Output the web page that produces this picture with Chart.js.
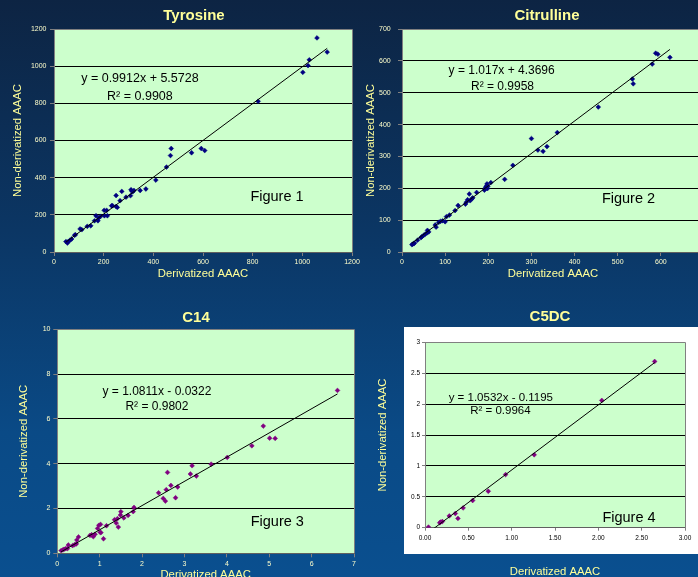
<!DOCTYPE html>
<html>
<head>
<meta charset="utf-8">
<script src="https://cdn.jsdelivr.net/npm/chart.js@4/dist/chart.umd.min.js"></script>
<style>
  html, body { margin: 0; padding: 0; width: 698px; height: 577px; overflow: hidden; }
  body {
    position: relative;
    background: linear-gradient(180deg, #0d2443 0%, #0b3664 40%, #0a4a86 75%, #0a4f8f 100%);
  }
  canvas { position: absolute; }
  #c5dcPanel { position: absolute; left: 404px; top: 327px; width: 300px; height: 227px; background: #ffffff; }
</style>
</head>
<body>
<div id="c5dcPanel"></div>
<canvas id="tyrChart" width="388" height="290" style="left:0px;top:0px"></canvas>
<canvas id="citChart" width="390" height="290" style="left:352px;top:0px"></canvas>
<canvas id="c14Chart" width="392" height="290" style="left:0px;top:300px"></canvas>
<canvas id="c5dcChart" width="380" height="290" style="left:360px;top:300px"></canvas>
<script>
// ---- Tyrosine: derivatized vs non-derivatized AAAC ----
const tyrDerivatized = [48, 54, 58, 64, 71, 83, 86, 105, 112, 134, 148, 163, 169, 177, 180, 188, 202, 203, 212, 215,
  232, 236, 250, 255, 250, 273, 266, 290, 308, 310, 314, 317, 322, 347, 370, 410, 453, 469, 472, 554,
  593, 607, 822, 1002, 1023, 1028, 1059, 1100];
const tyrNonDerivatized = [56, 48, 57, 63, 70, 90, 93, 124, 120, 138, 141, 168, 195, 168, 183, 192, 224, 195, 224, 195,
  249, 249, 245, 240, 304, 326, 276, 295, 303, 335, 328, 324, 331, 331, 339, 387, 457, 519, 557, 534,
  557, 546, 811, 967, 1003, 1034, 1152, 1076];
const tyrSlope = 0.9912, tyrIntercept = 5.5728, tyrR2 = 0.9908;

// ---- Citrulline ----
const citDerivatized = [23, 25, 27, 29, 36, 44, 46, 50, 54, 58, 59, 62, 77, 79, 85, 89, 94, 100, 103, 110,
  123, 130, 147, 149, 152, 156, 158, 162, 164, 173, 191, 193, 195, 197, 198, 199, 206, 238, 257, 300,
  315, 327, 336, 360, 455, 534, 536, 580, 588, 593, 621];
const citNonDerivatized = [23, 25, 26, 28, 37, 45, 48, 52, 56, 60, 68, 63, 85, 78, 93, 96, 98, 95, 111, 116,
  130, 146, 150, 156, 164, 182, 161, 167, 170, 187, 194, 201, 206, 214, 199, 206, 218, 228, 272, 356,
  320, 316, 331, 375, 455, 543, 528, 590, 624, 621, 611];
const citSlope = 1.017, citIntercept = 4.3696, citR2 = 0.9958;

// ---- C14 ----
const c14Derivatized = [0.09, 0.13, 0.16, 0.20, 0.24, 0.26, 0.36, 0.41, 0.45, 0.46, 0.50, 0.77, 0.81, 0.85, 0.89,
  0.95, 0.98, 1.01, 1.03, 1.02, 1.09, 1.16, 1.35, 1.39, 1.42, 1.44, 1.49, 1.50, 1.57, 1.67, 1.79, 1.81,
  2.39, 2.50, 2.55, 2.57, 2.60, 2.68, 2.79, 2.84, 3.14, 3.18, 3.28, 3.63, 4.01, 4.59, 4.86, 5.01, 5.14, 6.61];
const c14NonDerivatized = [0.12, 0.15, 0.18, 0.21, 0.21, 0.37, 0.34, 0.39, 0.42, 0.59, 0.73, 0.80, 0.83, 0.74, 0.85,
  1.11, 1.25, 0.94, 0.92, 1.29, 0.65, 1.23, 1.50, 1.35, 1.55, 1.17, 1.71, 1.86, 1.58, 1.69, 1.86, 2.05,
  2.70, 2.45, 2.33, 2.84, 3.61, 3.03, 2.48, 2.96, 3.54, 3.91, 3.45, 3.98, 4.28, 4.80, 5.68, 5.14, 5.13, 7.27];
const c14Slope = 1.0811, c14Intercept = -0.0322, c14R2 = 0.9802;

// ---- C5DC ----
const c5dcDerivatized = [0.04, 0.17, 0.18, 0.20, 0.28, 0.35, 0.38, 0.44, 0.55, 0.73, 0.93, 1.26, 2.04, 2.65];
const c5dcNonDerivatized = [0.01, 0.08, 0.09, 0.10, 0.19, 0.23, 0.15, 0.32, 0.44, 0.59, 0.86, 1.18, 2.06, 2.69];
const c5dcSlope = 1.0532, c5dcIntercept = -0.1195, c5dcR2 = 0.9964;

const FONT = '"Liberation Sans", Arial, Helvetica, sans-serif';

function pairs(xs, ys) { return xs.map((x, i) => ({ x: x, y: ys[i] })); }
// Linear trendline across the observed x range
function trendPoints(xs, m, b) {
  const lo = Math.min(...xs), hi = Math.max(...xs);
  return [{ x: lo, y: m * lo + b }, { x: hi, y: m * hi + b }];
}
function equation(m, b) { return 'y = ' + m + 'x ' + (b < 0 ? '- ' : '+ ') + Math.abs(b); }
function rSquared(r2) { return 'R\u00B2 = ' + r2; }

// Green plot background plus grey frame on the top and right edges
const plotArea = {
  id: 'plotArea',
  beforeDraw(chart, args, o) {
    const { ctx, chartArea: a } = chart;
    ctx.save();
    ctx.fillStyle = o.fill;
    ctx.fillRect(a.left, a.top, a.right - a.left, a.bottom - a.top);
    ctx.restore();
  },
  beforeDatasetsDraw(chart, args, o) {
    const { ctx, chartArea: a } = chart;
    ctx.save();
    ctx.strokeStyle = o.frame;
    ctx.lineWidth = 1;
    ctx.beginPath();
    ctx.moveTo(Math.round(a.left), Math.round(a.top) + 0.5);
    ctx.lineTo(Math.round(a.right) + 0.5, Math.round(a.top) + 0.5);
    ctx.lineTo(Math.round(a.right) + 0.5, Math.round(a.bottom));
    ctx.stroke();
    ctx.restore();
  }
};

// Text boxes placed in data coordinates (equation, R², figure caption)
const notes = {
  id: 'notes',
  afterDatasetsDraw(chart, args, o) {
    const { ctx, scales } = chart;
    ctx.save();
    ctx.fillStyle = o.color;
    ctx.textAlign = 'center';
    ctx.textBaseline = 'middle';
    for (const n of o.items) {
      ctx.font = n.size + 'px ' + FONT;
      ctx.fillText(n.text, scales.x.getPixelForValue(n.x), scales.y.getPixelForValue(n.y));
    }
    ctx.restore();
  }
};

function makeChart(id, c) {
  return new Chart(document.getElementById(id), {
    type: 'scatter',
    data: {
      datasets: [
        {
          data: pairs(c.xs, c.ys),
          pointStyle: 'rectRot',
          pointRadius: 2.4,
          backgroundColor: c.pointColor,
          borderColor: c.pointColor,
          borderWidth: 0.5,
          order: 2
        },
        {
          data: trendPoints(c.xs, c.slope, c.intercept),
          showLine: true,
          borderColor: '#000000',
          borderWidth: 1,
          pointRadius: 0,
          fill: false,
          order: 1
        }
      ]
    },
    options: {
      responsive: false,
      animation: false,
      devicePixelRatio: 1,
      layout: { padding: 0 },
      plugins: {
        legend: { display: false },
        tooltip: { enabled: false },
        title: {
          display: true,
          text: c.title,
          color: '#ffff99',
          font: { family: FONT, size: 15, weight: 'bold' },
          padding: c.titlePad
        },
        plotArea: { fill: '#ccffcc', frame: '#808080' },
        notes: { color: '#000000', items: c.notes }
      },
      scales: {
        x: {
          type: 'linear',
          position: 'bottom',
          min: c.xMin, max: c.xMax,
          ticks: {
            stepSize: c.xStep,
            autoSkip: false,
            maxRotation: 0,
            color: c.tickColor,
            padding: c.xTickPad,
            font: { family: FONT, size: c.tickSize },
            callback: c.xFormat || (v => String(v))
          },
          grid: { drawOnChartArea: false, drawTicks: true, tickLength: c.tickLen, tickColor: '#808080' },
          border: { display: true, color: '#606060', width: 1 },
          title: {
            display: true,
            text: 'Derivatized AAAC',
            color: '#ffff99',
            font: { family: FONT, size: 11.3 },
            padding: { top: 0, bottom: c.xTitlePad }
          },
          afterFit(s) { s.height = c.xAxisHeight; }
        },
        y: {
          type: 'linear',
          position: 'left',
          min: c.yMin, max: c.yMax,
          ticks: {
            stepSize: c.yStep,
            autoSkip: false,
            color: c.tickColor,
            padding: c.yTickPad,
            font: { family: FONT, size: c.tickSize },
            callback: v => String(v)
          },
          grid: { color: '#000000', lineWidth: 1, drawTicks: true, tickLength: c.tickLen, tickColor: '#808080' },
          border: { display: true, color: '#808080', width: 1 },
          title: {
            display: true,
            text: 'Non-derivatized AAAC',
            color: '#ffff99',
            font: { family: FONT, size: 11.3 },
            padding: { top: c.yTitlePad, bottom: 0 }
          },
          afterFit(s) { s.width = c.yAxisWidth; }
        },
        spacer: {
          position: 'right',
          display: true,
          grid: { display: false },
          ticks: { display: false },
          border: { display: false },
          afterFit(s) { s.width = c.rightSpace; }
        }
      }
    },
    plugins: [plotArea, notes]
  });
}

makeChart('tyrChart', {
  title: 'Tyrosine',
  xs: tyrDerivatized, ys: tyrNonDerivatized,
  slope: tyrSlope, intercept: tyrIntercept,
  pointColor: '#000080',
  xMin: 0, xMax: 1200, xStep: 200,
  yMin: 0, yMax: 1200, yStep: 200,
  titlePad: { top: 6.5, bottom: 4.5 },
  tickColor: '#ffffcc', tickSize: 7, tickLen: 4,
  xTickPad: 1.5, yTickPad: 3.5,
  xAxisHeight: 38, yAxisWidth: 54, rightSpace: 36,
  xTitlePad: 9.2, yTitlePad: 11.5,
  notes: [
    { text: equation(tyrSlope, tyrIntercept), x: 346, y: 931, size: 12.5 },
    { text: rSquared(tyrR2), x: 346, y: 839, size: 12.5 },
    { text: 'Figure 1', x: 898, y: 296, size: 14.5 }
  ]
});

makeChart('citChart', {
  title: 'Citrulline',
  xs: citDerivatized, ys: citNonDerivatized,
  slope: citSlope, intercept: citIntercept,
  pointColor: '#000080',
  xMin: 0, xMax: 700, xStep: 100,
  yMin: 0, yMax: 700, yStep: 100,
  titlePad: { top: 6.5, bottom: 4.5 },
  tickColor: '#ffffcc', tickSize: 7, tickLen: 4,
  xTickPad: 2, yTickPad: 7.3,
  xAxisHeight: 38, yAxisWidth: 50, rightSpace: 38,
  xTitlePad: 9.2, yTitlePad: 11.9,
  notes: [
    { text: equation(citSlope, citIntercept), x: 231, y: 568, size: 12 },
    { text: rSquared(citR2), x: 233, y: 518, size: 12 },
    { text: 'Figure 2', x: 525, y: 166, size: 14.5 }
  ]
});

makeChart('c14Chart', {
  title: 'C14',
  xs: c14Derivatized, ys: c14NonDerivatized,
  slope: c14Slope, intercept: c14Intercept,
  pointColor: '#800080',
  xMin: 0, xMax: 7, xStep: 1,
  yMin: 0, yMax: 10, yStep: 2,
  titlePad: { top: 9, bottom: 2.3 },
  tickColor: '#ffffcc', tickSize: 7, tickLen: 4,
  xTickPad: 2.8, yTickPad: 2.8,
  xAxisHeight: 36.7, yAxisWidth: 57.3, rightSpace: 38,
  xTitlePad: 8.2, yTitlePad: 17.2,
  notes: [
    { text: equation(c14Slope, c14Intercept), x: 2.35, y: 7.21, size: 12 },
    { text: rSquared(c14R2), x: 2.35, y: 6.54, size: 12 },
    { text: 'Figure 3', x: 5.19, y: 1.40, size: 14.5 }
  ]
});

makeChart('c5dcChart', {
  title: 'C5DC',
  xs: c5dcDerivatized, ys: c5dcNonDerivatized,
  slope: c5dcSlope, intercept: c5dcIntercept,
  pointColor: '#800080',
  xMin: 0, xMax: 3, xStep: 0.5,
  yMin: 0, yMax: 3, yStep: 0.5,
  xFormat: v => Number(v).toFixed(2),
  titlePad: { top: 8, bottom: 16.3 },
  tickColor: '#000000', tickSize: 6.5, tickLen: 3,
  xTickPad: 3.3, yTickPad: 2,
  xAxisHeight: 62.3, yAxisWidth: 65, rightSpace: 55,
  xTitlePad: 11.2, yTitlePad: 16.2,
  notes: [
    { text: equation(c5dcSlope, c5dcIntercept), x: 0.875, y: 2.094, size: 11.5 },
    { text: rSquared(c5dcR2), x: 0.87, y: 1.888, size: 11.5 },
    { text: 'Figure 4', x: 2.354, y: 0.152, size: 14.5 }
  ]
});
</script>
</body>
</html>
